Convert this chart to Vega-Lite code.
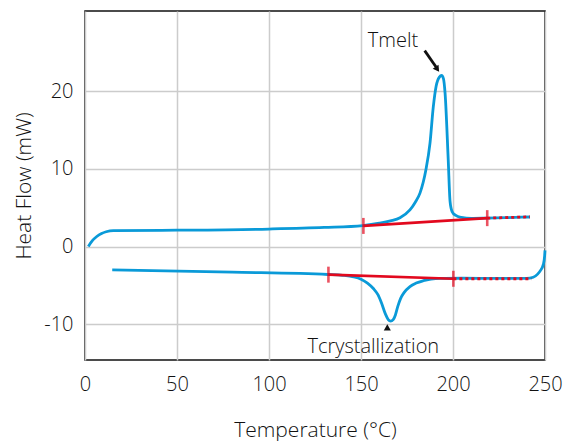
{
  "$schema": "https://vega.github.io/schema/vega-lite/v6.json",
  "width": 460,
  "height": 349,
  "autosize": "none",
  "padding": {"left": 85, "top": 11, "right": 22, "bottom": 81},
  "background": "white",
  "config": {
    "view": {"stroke": "#111111", "strokeWidth": 1.5},
    "font": "Open Sans",
    "axis": {"labelFont": "Open Sans", "titleFont": "Open Sans", "labelColor": "#111111", "titleColor": "#111111", "labelFontWeight": 300, "titleFontWeight": 300, "gridColor": "#cccccc", "gridWidth": 1.5, "domain": false, "ticks": false}
  },
  "datasets": {
    "curves": [
      {"T": 1.8, "hf": 0.0, "s": "heat"},
      {"T": 4, "hf": 0.75, "s": "heat"},
      {"T": 6.4, "hf": 1.29, "s": "heat"},
      {"T": 9, "hf": 1.68, "s": "heat"},
      {"T": 11.5, "hf": 1.9, "s": "heat"},
      {"T": 15.4, "hf": 2.05, "s": "heat"},
      {"T": 50, "hf": 2.1, "s": "heat"},
      {"T": 100, "hf": 2.25, "s": "heat"},
      {"T": 130, "hf": 2.45, "s": "heat"},
      {"T": 151, "hf": 2.7, "s": "heat"},
      {"T": 160, "hf": 3.0, "s": "heat"},
      {"T": 166, "hf": 3.3, "s": "heat"},
      {"T": 171.2, "hf": 3.7, "s": "heat"},
      {"T": 176.6, "hf": 4.7, "s": "heat"},
      {"T": 179.5, "hf": 5.7, "s": "heat"},
      {"T": 182.1, "hf": 6.9, "s": "heat"},
      {"T": 185.3, "hf": 9.9, "s": "heat"},
      {"T": 187.5, "hf": 13.3, "s": "heat"},
      {"T": 189.3, "hf": 18.0, "s": "heat"},
      {"T": 190.8, "hf": 20.6, "s": "heat"},
      {"T": 192.6, "hf": 21.8, "s": "heat"},
      {"T": 193.8, "hf": 22.0, "s": "heat"},
      {"T": 194.8, "hf": 21.6, "s": "heat"},
      {"T": 195.7, "hf": 19.7, "s": "heat"},
      {"T": 197.4, "hf": 11.2, "s": "heat"},
      {"T": 198.4, "hf": 5.8, "s": "heat"},
      {"T": 199.5, "hf": 4.5, "s": "heat"},
      {"T": 201.5, "hf": 4.0, "s": "heat"},
      {"T": 204.5, "hf": 3.75, "s": "heat"},
      {"T": 210, "hf": 3.62, "s": "heat"},
      {"T": 218, "hf": 3.65, "s": "heat"},
      {"T": 230, "hf": 3.72, "s": "heat"},
      {"T": 241.8, "hf": 3.8, "s": "heat"},
      {"T": 14.8, "hf": -3.0, "s": "cool"},
      {"T": 80, "hf": -3.3, "s": "cool"},
      {"T": 132, "hf": -3.6, "s": "cool"},
      {"T": 140, "hf": -3.7, "s": "cool"},
      {"T": 146, "hf": -3.9, "s": "cool"},
      {"T": 150, "hf": -4.2, "s": "cool"},
      {"T": 153.5, "hf": -4.7, "s": "cool"},
      {"T": 156.7, "hf": -5.4, "s": "cool"},
      {"T": 159.2, "hf": -6.2, "s": "cool"},
      {"T": 161.2, "hf": -7.3, "s": "cool"},
      {"T": 163.3, "hf": -8.7, "s": "cool"},
      {"T": 164.8, "hf": -9.4, "s": "cool"},
      {"T": 166.1, "hf": -9.6, "s": "cool"},
      {"T": 167.5, "hf": -9.4, "s": "cool"},
      {"T": 168.7, "hf": -8.8, "s": "cool"},
      {"T": 170, "hf": -7.7, "s": "cool"},
      {"T": 171.5, "hf": -6.7, "s": "cool"},
      {"T": 173.5, "hf": -5.9, "s": "cool"},
      {"T": 176.6, "hf": -5.15, "s": "cool"},
      {"T": 180, "hf": -4.7, "s": "cool"},
      {"T": 183.9, "hf": -4.4, "s": "cool"},
      {"T": 188, "hf": -4.2, "s": "cool"},
      {"T": 192.9, "hf": -4.1, "s": "cool"},
      {"T": 205, "hf": -4.08, "s": "cool"},
      {"T": 225, "hf": -4.1, "s": "cool"},
      {"T": 240, "hf": -4.1, "s": "cool"},
      {"T": 243.6, "hf": -3.95, "s": "cool"},
      {"T": 246, "hf": -3.55, "s": "cool"},
      {"T": 247.5, "hf": -3.1, "s": "cool"},
      {"T": 249.1, "hf": -2.3, "s": "cool"},
      {"T": 249.8, "hf": -1.2, "s": "cool"},
      {"T": 250, "hf": -0.5, "s": "cool"}
    ],
    "baselines": [
      {"T": 151.3, "hf": 2.65, "s": "heat"},
      {"T": 218.6, "hf": 3.65, "s": "heat"},
      {"T": 132.3, "hf": -3.62, "s": "cool"},
      {"T": 200.2, "hf": -4.15, "s": "cool"}
    ],
    "dotted": [
      {"T": 218.6, "hf": 3.65, "s": "heat"},
      {"T": 241.8, "hf": 3.82, "s": "heat"},
      {"T": 200.2, "hf": -4.15, "s": "cool"},
      {"T": 242.7, "hf": -4.15, "s": "cool"}
    ],
    "labels": [
      {"T": 167.4, "hf": 26.4, "text": "Tmelt"},
      {"T": 156.7, "hf": -12.9, "text": "Tcrystallization"}
    ],
    "arrow": [
      {"T": 184.6, "hf": 25.2},
      {"T": 190.8, "hf": 23.1}
    ],
    "arrowhead": [
      {"T": 191.5, "hf": 22.8, "shape": "triangle-down", "angle": 325},
      {"T": 164.3, "hf": -10.4, "shape": "triangle-up", "angle": 0}
    ]
  },
  "encoding": {
    "x": {"field": "T", "type": "quantitative", "scale": {"domain": [0, 250], "nice": false, "zero": false},
      "axis": {"values": [0, 50, 100, 150, 200, 250], "title": "Temperature (°C)", "labelFontSize": 20, "titleFontSize": 21, "labelPadding": 14, "titlePadding": 25, "labelFlush": false}},
    "y": {"field": "hf", "type": "quantitative", "scale": {"domain": [-14.6, 30.3], "nice": false, "zero": false},
      "axis": {"values": [-10, 0, 10, 20], "title": "Heat Flow (mW)", "labelExpr": "replace(datum.label, '−', '-')", "labelFontSize": 20, "titleFontSize": 21, "labelPadding": 12, "titlePadding": 9}}
  },
  "layer": [
    {
      "data": {"name": "curves"},
      "mark": {"type": "line", "color": "#0a9ad8", "strokeWidth": 2.8, "interpolate": "monotone"},
      "encoding": {"detail": {"field": "s"}}
    },
    {
      "data": {"name": "baselines"},
      "mark": {"type": "line", "color": "#e2091e", "strokeWidth": 2.7},
      "encoding": {"detail": {"field": "s"}}
    },
    {
      "data": {"name": "dotted"},
      "mark": {"type": "line", "color": "#e2091e", "strokeWidth": 2.8, "strokeDash": [3, 3]},
      "encoding": {"detail": {"field": "s"}}
    },
    {
      "data": {"name": "baselines"},
      "mark": {"type": "tick", "color": "#e2091e", "orient": "vertical", "size": 16, "thickness": 2.6}
    },
    {
      "data": {"name": "arrow"},
      "mark": {"type": "line", "color": "#111111", "strokeWidth": 2.8},
      "encoding": {}
    },
    {
      "data": {"name": "arrowhead"},
      "mark": {"type": "point", "filled": true, "color": "#111111", "size": 50, "opacity": 1},
      "encoding": {"shape": {"field": "shape", "type": "nominal", "scale": null}, "angle": {"field": "angle", "type": "quantitative", "scale": null}}
    },
    {
      "data": {"name": "labels"},
      "mark": {"type": "text", "fontSize": 20, "color": "#111111", "font": "Open Sans", "fontWeight": 300},
      "encoding": {"text": {"field": "text"}}
    }
  ]
}
